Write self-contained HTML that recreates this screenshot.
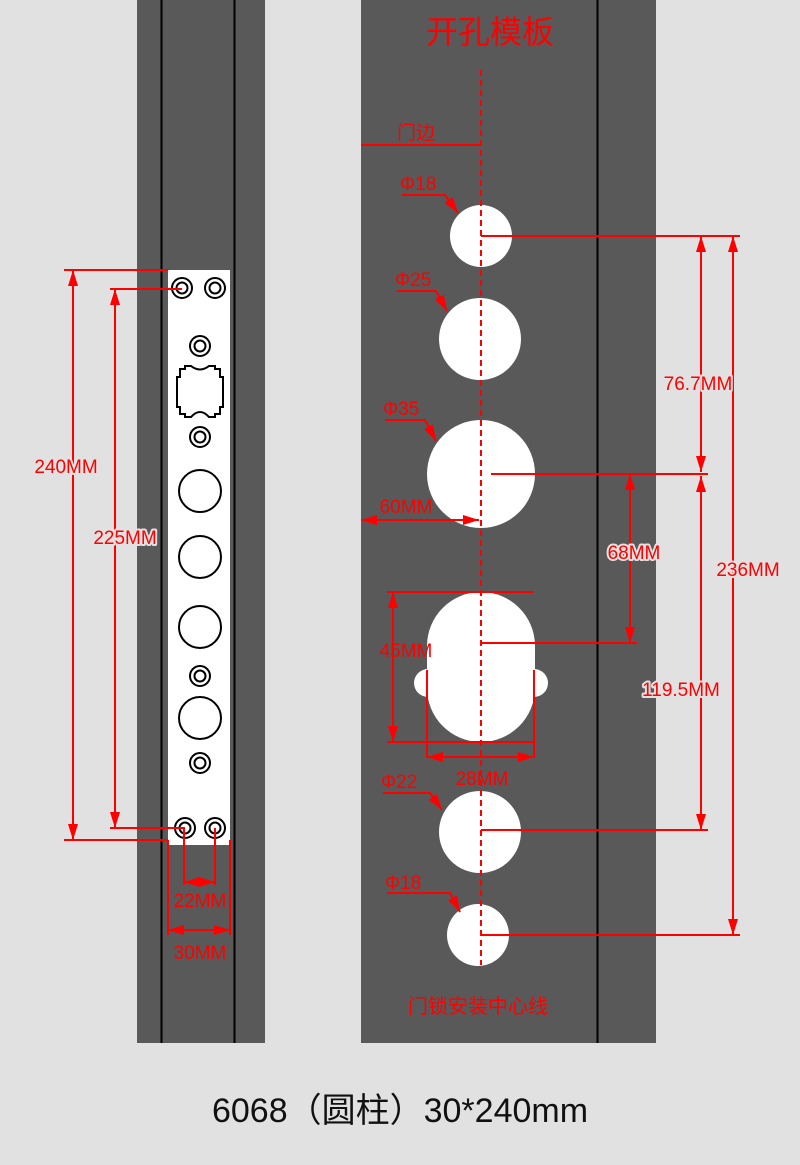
<!DOCTYPE html>
<html><head><meta charset="utf-8"><style>
html,body{margin:0;padding:0;background:#e1e1e1;}
svg{display:block}
text{font-family:"Liberation Sans","Noto Sans CJK SC",sans-serif;}
.r{fill:#f00;font-size:19px}
.h{paint-order:stroke;stroke-width:4px;stroke-linejoin:round}
</style></head><body>
<svg width="800" height="1165" viewBox="0 0 800 1165" xmlns="http://www.w3.org/2000/svg">
<defs>
<marker id="a" viewBox="0 0 16 10" refX="16" refY="5" markerWidth="16" markerHeight="10" orient="auto-start-reverse" markerUnits="userSpaceOnUse"><path d="M0,0 L16,5 L0,10 z" fill="#f00"/></marker>
</defs>
<rect width="800" height="1165" fill="#e1e1e1"/>
<!-- left panel -->
<rect x="137" y="0" width="128" height="1043" fill="#595959"/>
<line x1="161.5" y1="0" x2="161.5" y2="1043" stroke="#000" stroke-width="2"/>
<line x1="234.5" y1="0" x2="234.5" y2="1043" stroke="#000" stroke-width="2"/>
<rect x="168" y="270" width="62" height="575" fill="#fff"/>
<g fill="none" stroke="#000" stroke-width="2">
<circle cx="182" cy="288" r="10"/><circle cx="182" cy="288" r="5.5"/>
<circle cx="215" cy="288" r="10"/><circle cx="215" cy="288" r="5.5"/>
<circle cx="200" cy="346" r="10"/><circle cx="200" cy="346" r="5.5"/>
<circle cx="200" cy="437" r="10"/><circle cx="200" cy="437" r="5.5"/>
<circle cx="200" cy="676" r="10"/><circle cx="200" cy="676" r="5.5"/>
<circle cx="200" cy="763" r="10"/><circle cx="200" cy="763" r="5.5"/>
<circle cx="185" cy="828" r="10"/><circle cx="185" cy="828" r="5.5"/>
<circle cx="215" cy="828" r="10"/><circle cx="215" cy="828" r="5.5"/>
<circle cx="200" cy="491" r="21"/><circle cx="200" cy="557" r="21"/>
<circle cx="200" cy="627" r="21"/><circle cx="200" cy="718" r="21"/>
<path d="M180,369 h5 v-3 h6 Q200,373 209,366 h6 v3 h5 v8 h3 v30 h-3 v7 h-5 v3 h-6 Q200,407 191,417 h-6 v-3 h-5 v-7 h-3 v-30 h3 z"/>
</g>
<!-- left dims -->
<g stroke="#f00" stroke-width="2" fill="none">
<line x1="64" y1="270" x2="168" y2="270"/>
<line x1="64" y1="840" x2="168" y2="840"/>
<line x1="73" y1="270" x2="73" y2="840" marker-start="url(#a)" marker-end="url(#a)"/>
<line x1="110" y1="289" x2="182" y2="289"/>
<line x1="110" y1="828" x2="185" y2="828"/>
<line x1="115" y1="289" x2="115" y2="828" marker-start="url(#a)" marker-end="url(#a)"/>
<line x1="168" y1="840" x2="168" y2="935"/>
<line x1="230" y1="840" x2="230" y2="935"/>
<line x1="184" y1="828" x2="184" y2="885"/>
<line x1="215" y1="828" x2="215" y2="885"/>
<line x1="184" y1="882" x2="215" y2="882" marker-start="url(#a)" marker-end="url(#a)"/>
<line x1="168" y1="930" x2="230" y2="930" marker-start="url(#a)" marker-end="url(#a)"/>
</g>
<text class="r h" x="66" y="473" text-anchor="middle" stroke="#e1e1e1">240MM</text>
<text class="r h" x="125" y="544" text-anchor="middle" stroke="#e1e1e1">225MM</text>
<text class="r" x="200" y="907" text-anchor="middle">22MM</text>
<text class="r" x="200" y="959" text-anchor="middle">30MM</text>
<!-- right panel -->
<rect x="361" y="0" width="295" height="1043" fill="#595959"/>
<line x1="597.5" y1="0" x2="597.5" y2="1043" stroke="#000" stroke-width="2"/>
<g fill="#fff">
<circle cx="481" cy="236" r="31"/>
<circle cx="480" cy="339" r="41"/>
<circle cx="481" cy="474" r="54"/>
<circle cx="480" cy="832" r="41"/>
<circle cx="478" cy="935" r="31"/>
<circle cx="428" cy="683" r="14"/>
<circle cx="534" cy="683" r="14"/>
<rect x="427" y="592" width="108" height="150" rx="54" ry="54"/>
</g>
<line x1="481" y1="70" x2="481" y2="965" stroke="#f00" stroke-width="2" stroke-dasharray="6,4"/>
<g stroke="#f00" stroke-width="2" fill="none">
<line x1="361" y1="145" x2="481" y2="145"/>
<path d="M402,195 H445 L458,213" marker-end="url(#a)"/>
<path d="M397,291 H436 L447,311" marker-end="url(#a)"/>
<path d="M385,420 H425 L436,441" marker-end="url(#a)"/>
<path d="M383,793 H430 L442,810" marker-end="url(#a)"/>
<path d="M387,893 H450 L460,912" marker-end="url(#a)"/>
<line x1="481" y1="236" x2="740" y2="236"/>
<line x1="491" y1="474" x2="708" y2="474"/>
<line x1="481" y1="643" x2="637" y2="643"/>
<line x1="481" y1="830" x2="708" y2="830"/>
<line x1="481" y1="935" x2="740" y2="935"/>
<line x1="701" y1="236" x2="701" y2="472" marker-start="url(#a)" marker-end="url(#a)"/>
<line x1="701" y1="476" x2="701" y2="830" marker-start="url(#a)" marker-end="url(#a)"/>
<line x1="733" y1="236" x2="733" y2="935" marker-start="url(#a)" marker-end="url(#a)"/>
<line x1="630" y1="474" x2="630" y2="643" marker-start="url(#a)" marker-end="url(#a)"/>
<line x1="361" y1="520" x2="479" y2="520" marker-start="url(#a)" marker-end="url(#a)"/>
<line x1="387" y1="592" x2="533" y2="592"/>
<line x1="387" y1="742" x2="535" y2="742"/>
<line x1="393" y1="592" x2="393" y2="742" marker-start="url(#a)" marker-end="url(#a)"/>
<line x1="427" y1="670" x2="427" y2="758"/>
<line x1="534" y1="670" x2="534" y2="758"/>
<line x1="427" y1="757" x2="534" y2="757" marker-start="url(#a)" marker-end="url(#a)"/>
</g>
<text x="490" y="43" text-anchor="middle" fill="#f00" font-size="32">开孔模板</text>
<text class="r" x="397" y="139">门边</text>
<text class="r" x="400" y="190">Φ18</text>
<text class="r" x="395" y="286">Φ25</text>
<text class="r" x="383" y="415">Φ35</text>
<text class="r" x="381" y="788">Φ22</text>
<text class="r" x="385" y="889">Φ18</text>
<text class="r" x="406" y="513" text-anchor="middle">60MM</text>
<text class="r" x="406" y="657" text-anchor="middle">45MM</text>
<text class="r" x="482" y="785" text-anchor="middle">28MM</text>
<text class="r h" x="634" y="559" text-anchor="middle" stroke="#e1e1e1">68MM</text>
<text class="r h" x="698" y="390" text-anchor="middle" stroke="#e1e1e1">76.7MM</text>
<text class="r h" x="681" y="696" text-anchor="middle" stroke="#e1e1e1">119.5MM</text>
<text class="r h" x="748" y="576" text-anchor="middle" stroke="#e1e1e1">236MM</text>
<text x="478" y="1013" text-anchor="middle" fill="#f00" font-size="20">门锁安装中心线</text>
<text x="400" y="1122" text-anchor="middle" fill="#111" font-size="34">6068（圆柱）30*240mm</text>
</svg>
</body></html>
